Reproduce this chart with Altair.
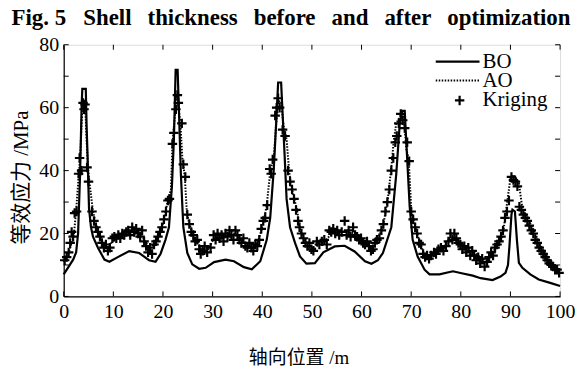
import altair as alt
import pandas as pd

# ---- data ----
bo_x = [0, 1, 1.9, 2.5, 2.9, 3.3, 3.6, 3.75, 4.45, 4.6, 4.8, 5.1, 5.5, 5.9, 6.9, 8.2, 9.2, 10.9, 13.2, 15.2,
        17.2, 18.5, 19.5, 20.5, 21.2, 21.8, 22.2, 22.55, 22.95, 23.2, 23.6, 24.1, 24.9, 25.9, 27.3, 28.6, 30.3,
        32.6, 34.3, 36.3, 37.9, 39.6, 40.9, 41.6, 42.3, 42.8, 43.2, 43.8, 44.1, 44.5, 44.9, 45.6, 46.6, 47.6,
        48.9, 50.6, 52.3, 54.6, 56.6, 58.6, 60.7, 62, 63.3, 64.3, 66, 67, 67.7, 68.2, 68.7, 69, 69.7, 70.3,
        71.3, 72.7, 73.7, 75.7, 78.4, 80.4, 82.4, 84, 86.4, 88, 89, 89.5, 89.8, 90.2, 90.4, 90.9, 91.3, 91.7,
        92.4, 94, 95.7, 98, 100]
bo_y = [7, 9.5, 11.7, 14, 20, 39, 60, 66, 66, 55, 45, 28, 22, 19, 15.5, 11.7, 11, 12.5, 14.4, 13.8,
        11.5, 11, 13.5, 18, 22, 35, 50, 72, 72, 60, 39, 22, 13.8, 10.2, 8.8, 9.1, 10.9,
        11.7, 11.2, 9.3, 8.6, 11.2, 18, 25, 40, 55, 68, 68, 58, 45, 31, 22, 17, 12.7,
        10.4, 10.6, 14, 15.9, 16.1, 14.3, 11.2, 10.4, 11.5, 13.8, 22, 39, 55, 59, 59, 49.6, 28.5, 18,
        12.7, 8.5, 7, 7, 8, 7.3, 6.6, 5.8, 5.2, 6.3, 7.5, 10, 16, 26, 27.6, 27, 18, 10.7,
        9.1, 7, 5.4, 4.3, 3.3]

ao_x = [0, 1, 2, 2.5, 3, 3.3, 3.7, 4.0, 4.3, 4.6, 4.9, 5.2, 5.9, 6.5, 7.2, 7.8, 8.8, 9.8, 11, 13, 14, 15.2,
        16.2, 17.2, 18.2, 19.2, 20.2, 20.9, 21.6, 21.9, 22.2, 22.8, 23.0, 23.5, 23.9, 24.4, 24.8, 25.3, 26.3,
        26.9, 27.9, 28.9, 30.3, 32.3, 34.3, 35.6, 37.3, 38.3, 39.3, 40.3, 40.9, 41.7, 42.3, 42.8, 43.3, 43.8,
        44.3, 44.9, 45.4, 45.8, 46.3, 47, 47.6, 48.3, 49.3, 50.6, 51.6, 52.9, 54.2, 55.2, 56.8, 58.9, 60.3,
        61.9, 62.9, 64.3, 65.3, 66, 66.5, 67, 67.7, 68.3, 68.6, 69, 69.5, 70, 70.6, 71.6, 72.7, 73.7, 75.4,
        76.7, 77.7, 79, 80, 81.3, 83, 84, 85, 86, 87, 88, 88.6, 89, 89.4, 90, 90.7, 91.7, 92.4, 93.4, 94.4,
        95.4, 96.4, 97.7, 98.7, 99.7, 100]
ao_y = [11, 14, 19, 27, 38, 44, 58, 62, 62, 50, 41, 36, 27, 23, 20, 17.5, 15, 17.5, 19, 20, 20.5, 20.5,
        18, 15.5, 16.5, 20, 24, 30, 34, 48, 54, 64, 62, 55, 44, 38, 27, 23, 19,
        17.5, 14, 14.5, 18.5, 19, 20, 18, 16, 15.3, 18, 24, 29, 41, 43, 55, 62, 62,
        54, 50, 40, 35.3, 32, 27.5, 21.5, 18, 15.5, 15.3, 17, 18, 20.5, 21, 20.5, 20, 18,
        15.5, 17, 22, 31, 41, 49.6, 55, 57, 58.5, 56, 47, 43.7, 28, 23.3, 18, 13, 12, 14.8,
        16, 18.5, 18.5, 16.5, 15.5, 13.5, 12.5, 11, 12.8, 15.4, 17.5, 21, 25.9, 30.7, 37.6, 38.6, 36, 28, 25, 22,
        18.5, 14.8, 12, 10, 8, 7.5]

kr_x = [0.2, 0.6, 1.0, 1.3, 1.6, 1.9, 2.2, 2.6, 3.0, 3.2, 3.6, 3.9, 4.1, 4.3, 4.7, 5.0, 5.7, 6.1, 6.5, 6.9,
        7.3, 7.7, 8.1, 8.5, 8.9, 9.3, 9.8, 10.2, 10.6, 11, 11.4, 11.8, 12.2, 12.6, 13.0, 13.4, 13.8, 14.2,
        14.6, 15.0, 15.4, 15.8, 16.2, 16.6, 17.0, 17.4, 17.8, 18.2, 18.6, 19.0, 19.4, 19.8, 20.2, 20.6, 21.0,
        21.3, 21.9, 22.2, 22.6, 22.9, 23.1, 23.8, 24.1, 24.5, 24.9, 25.3, 25.7, 26.1, 26.5, 26.9, 27.3, 27.6,
        28.0, 28.4, 28.9, 29.6, 30.2, 30.6, 31.0, 31.4, 31.8, 32.2, 32.6, 33.0, 33.4, 33.8, 34.2, 34.6, 35.0,
        35.4, 35.8, 36.2, 36.6, 37.0, 37.4, 37.8, 38.2, 38.6, 39.0, 39.4, 39.8, 40.2, 40.6, 41.0, 41.5, 41.8,
        42.1, 42.6, 42.9, 43.2, 43.5, 44.1, 44.6, 45.2, 45.6, 46.0, 46.4, 46.8, 47.2, 47.5, 47.9, 48.3, 48.7,
        49.1, 49.5, 49.9, 50.3, 51.0, 51.5, 52.0, 52.5, 53.0, 53.5, 53.9, 54.3, 54.7, 55.1, 55.5, 56.0, 56.6,
        57.0, 57.4, 57.8, 58.3, 58.7, 59.1, 59.5, 59.9, 60.3, 60.7, 61.1, 61.5, 61.9, 62.3, 62.7, 63.1, 63.6,
        64.0, 64.4, 64.8, 65.2, 65.6, 66.0, 66.4, 66.8, 67.1, 67.5, 67.9, 68.3, 68.7, 69.2, 69.6, 70.0, 70.4,
        70.8, 71.2, 71.6, 72.0, 72.4, 72.8, 73.2, 73.6, 74.0, 74.6, 75.0, 75.5, 76.0, 76.5, 77.0, 77.5, 77.9,
        78.3, 78.7, 79.1, 79.5, 79.9, 80.3, 80.7, 81.1, 81.5, 81.9, 82.3, 82.7, 83.1, 83.5, 83.9, 84.3, 84.8,
        85.3, 85.7, 86.1, 86.5, 86.9, 87.3, 87.7, 88.1, 88.5, 88.9, 89.3, 89.7, 90.2, 90.6, 91.0, 91.4, 91.8,
        92.2, 92.6, 93.0, 93.4, 93.8, 94.2, 94.6, 95.0, 95.4, 95.8, 96.2, 96.6, 97.0, 97.4, 97.8, 98.2, 98.6,
        99.0, 99.4, 99.8]
kr_y = [11.5, 12.5, 14, 17, 20.5, 19, 26.5, 27, 39, 44, 40, 61.5, 59.5, 61, 41, 36.5, 27, 24, 22, 20.5,
        19, 17, 15.5, 16.5, 14.5, 15.5, 18.5, 19, 18.5, 19.5, 18.5, 20, 19.5, 20.5, 21, 19.5, 22, 20.5,
        21.5, 20, 19, 21, 17.5, 16, 14, 15.5, 13.5, 16.5, 17.5, 19, 20.5, 22, 24.5, 27, 30.5,
        31, 48.5, 52, 59.5, 64, 61.5, 55, 42, 38, 26, 23, 20.5, 19.5, 17.5, 18, 15, 13.5,
        14.5, 16, 14, 15.5, 19.5, 18, 20, 18.5, 19.5, 17.5, 20, 19, 21, 19.5, 18, 21, 19.5,
        18, 17, 18.5, 16, 15.5, 17, 15.5, 14.5, 16.5, 16, 18, 21.5, 24, 25, 29, 40.5, 39,
        43.5, 57.5, 60, 63, 60, 53, 51, 40, 36.5, 34, 31, 27.5, 24, 22, 20, 18.5, 17,
        16, 17, 15, 14.5, 17.5, 16.5, 17.5, 18, 16.5, 21, 20.5, 21.5, 20, 21, 19.5, 20.5, 24,
        19.5, 21, 19, 22, 19.5, 19, 18, 18.5, 17, 16.5, 17.5, 16, 14.5, 15, 17, 18, 18.5,
        21, 23, 27, 30, 34, 40, 44, 49, 51, 55, 58, 56, 53.5, 49, 43, 27, 24.5,
        22, 20, 17, 16.5, 13.5, 12.5, 13, 12, 13, 14, 13.5, 15, 15.5, 14.5, 16, 17.5, 20,
        18, 20, 18.5, 17, 16.5, 15, 16, 14, 15.5, 13, 14.5, 13, 11.5, 12.5, 10.5, 12, 9.5,
        11, 12.5, 14, 13, 15.5, 16.5, 17.5, 19, 21, 25, 27, 30.5, 38, 37, 36.5, 35, 28.5,
        27.5, 26, 25, 24, 22.5, 21, 20, 18, 17, 15.5, 14.5, 13.5, 12.5, 11.5, 10.5, 10, 9.5,
        8.5, 8.5, 7.5]

x_ticks = [0, 10, 20, 30, 40, 50, 60, 70, 80, 90, 100]
y_ticks = [0, 10, 20, 30, 40, 50, 60, 70, 80]
legend_labels = ["BO", "AO", "Kriging"]
GAP = "\u00a0\u00a0\u2009"
title_text = ("Fig.\u00a05\u00a0\u00a0\u00a0Shell" + GAP + "thickness" + GAP + "before" + GAP + "and"
              + GAP + "after" + GAP + "optimization")

SERIF = "Liberation Serif, Noto Sans CJK SC"
W, H = 499, 253

bo = pd.DataFrame({"x": bo_x, "y": bo_y})
ao = pd.DataFrame({"x": ao_x, "y": ao_y})
kr = pd.DataFrame({"x": kr_x, "y": kr_y})
xt = pd.DataFrame({"t": x_ticks})
yt = pd.DataFrame({"t": y_ticks})
one = pd.DataFrame({"a": [0]})

xs = alt.Scale(domain=[0, 100], nice=False, zero=False)
ys = alt.Scale(domain=[0, 80], nice=False, zero=False)

xaxis = alt.Axis(values=x_ticks, grid=False, tickSize=0, labelFont=SERIF, labelFontSize=20,
                 labelColor="black", labelPadding=5, labelOverlap=False, labelFlush=False,
                 domainColor="black", domainWidth=1.2,
                 title="轴向位置 /m", titleFont=SERIF, titleFontSize=19, titleFontWeight="normal",
                 titleColor="black", titleX=236, titleY=61, titleAlign="center", titleBaseline="middle")
yaxis = alt.Axis(values=y_ticks, grid=False, tickSize=0, labelFont=SERIF, labelFontSize=20,
                 labelColor="black", labelPadding=5, labelOverlap=False, labelFlush=False,
                 domainColor="black", domainWidth=1.2,
                 title="等效应力 /MPa", titleFont=SERIF, titleFontSize=21, titleFontWeight="normal",
                 titleColor="black", titleX=-42, titleY=133, titleAlign="center", titleBaseline="middle",
                 titleAngle=270)

kriging = alt.Chart(kr).mark_point(
    shape="M-1,0L1,0M0,-1L0,1", size=90, strokeWidth=2.2, color="black", filled=False, opacity=1
).encode(x=alt.X("x:Q", scale=xs, axis=xaxis), y=alt.Y("y:Q", scale=ys, axis=yaxis))

ao_line = alt.Chart(ao).mark_line(color="black", strokeWidth=2, strokeDash=[1.5, 1.5]).encode(
    x=alt.X("x:Q", scale=xs), y=alt.Y("y:Q", scale=ys))

bo_line = alt.Chart(bo).mark_line(color="black", strokeWidth=2.2).encode(
    x=alt.X("x:Q", scale=xs), y=alt.Y("y:Q", scale=ys))

tick_b = alt.Chart(xt).mark_rule(color="black", strokeWidth=1).encode(
    x=alt.X("t:Q", scale=xs), y=alt.value(H), y2=alt.value(H - 5))
tick_t = alt.Chart(xt).mark_rule(color="black", strokeWidth=1).encode(
    x=alt.X("t:Q", scale=xs), y=alt.value(0), y2=alt.value(5))
tick_l = alt.Chart(yt).mark_rule(color="black", strokeWidth=1).encode(
    y=alt.Y("t:Q", scale=ys), x=alt.value(0), x2=alt.value(5))
tick_r = alt.Chart(yt).mark_rule(color="black", strokeWidth=1).encode(
    y=alt.Y("t:Q", scale=ys), x=alt.value(W), x2=alt.value(W - 5))

leg_y = [17, 36, 56]
leg_bo = alt.Chart(one).mark_rule(color="black", strokeWidth=2.2).encode(
    x=alt.value(374), x2=alt.value(418), y=alt.value(leg_y[0]))
leg_ao = alt.Chart(one).mark_rule(color="black", strokeWidth=2, strokeDash=[1.5, 1.5]).encode(
    x=alt.value(374), x2=alt.value(418), y=alt.value(leg_y[1]))
leg_kr = alt.Chart(one).mark_point(
    shape="M-1,0L1,0M0,-1L0,1", size=90, strokeWidth=2.2, color="black", filled=False, opacity=1
).encode(x=alt.value(398), y=alt.value(leg_y[2]))
leg_txt = alt.layer(*[
    alt.Chart(one).mark_text(font=SERIF, fontSize=21, align="left", baseline="middle", color="black").encode(
        x=alt.value(421), y=alt.value(leg_y[i]), text=alt.value(legend_labels[i]))
    for i in range(3)
])

title_mark = alt.Chart(one).mark_text(
    font=SERIF, fontSize=23, fontWeight="bold", align="center", baseline="alphabetic", color="black"
).encode(x=alt.value(228.5), y=alt.value(-20), text=alt.value(title_text))

chart = alt.layer(
    kriging, ao_line, bo_line, tick_b, tick_t, tick_l, tick_r, leg_bo, leg_ao, leg_kr, leg_txt, title_mark
).properties(
    width=W, height=H,
    autosize=alt.AutoSizeParams(type="none"),
    padding={"left": 56, "top": 36, "right": 17, "bottom": 72},
).configure_view(stroke="black", strokeWidth=1.2).configure(background="white")

chart.save("out.html", embed_options={"renderer": "svg", "actions": False})
